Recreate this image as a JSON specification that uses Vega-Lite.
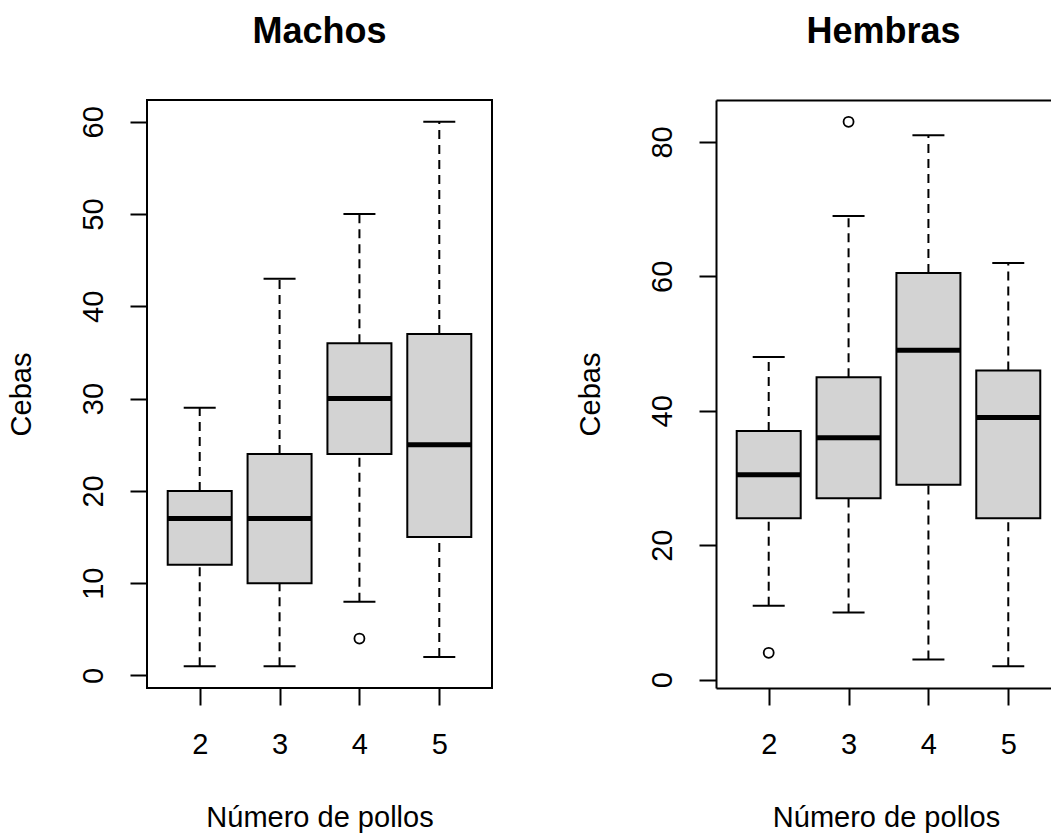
{
  "$schema": "https://vega.github.io/schema/vega-lite/v6.json",
  "background": "white",
  "padding": {"left": 6, "top": 13, "right": 0, "bottom": 0},
  "autosize": {"type": "pad"},
  "bounds": "flush",
  "spacing": 224,
  "datasets": {
    "resumen": [
      {"sexo": "Machos", "pollos": 2, "min": 1, "q1": 12, "mediana": 17, "q3": 20, "max": 29},
      {"sexo": "Machos", "pollos": 3, "min": 1, "q1": 10, "mediana": 17, "q3": 24, "max": 43},
      {"sexo": "Machos", "pollos": 4, "min": 8, "q1": 24, "mediana": 30, "q3": 36, "max": 50},
      {"sexo": "Machos", "pollos": 5, "min": 2, "q1": 15, "mediana": 25, "q3": 37, "max": 60},
      {"sexo": "Hembras", "pollos": 2, "min": 11, "q1": 24, "mediana": 30.5, "q3": 37, "max": 48},
      {"sexo": "Hembras", "pollos": 3, "min": 10, "q1": 27, "mediana": 36, "q3": 45, "max": 69},
      {"sexo": "Hembras", "pollos": 4, "min": 3, "q1": 29, "mediana": 49, "q3": 60.5, "max": 81},
      {"sexo": "Hembras", "pollos": 5, "min": 2, "q1": 24, "mediana": 39, "q3": 46, "max": 62}
    ],
    "atipicos": [
      {"sexo": "Machos", "pollos": 4, "cebas": 4},
      {"sexo": "Hembras", "pollos": 2, "cebas": 4},
      {"sexo": "Hembras", "pollos": 3, "cebas": 83}
    ]
  },
  "hconcat": [
    {
      "width": 345,
      "height": 588,
      "title": {"text": "Machos", "baseline": "alphabetic", "offset": 21, "frame": "group"},
      "data": {"name": "resumen"},
      "transform": [{"filter": "datum.sexo === 'Machos'"}],
      "layer": [
        {
          "mark": {"type": "rule", "color": "black", "strokeWidth": 2, "strokeDash": [9, 6]},
          "encoding": {
            "x": {"field": "pollos", "type": "quantitative",
                  "scale": {"domain": [1.34, 5.66], "nice": false, "zero": false, "padding": 0},
                  "axis": {"values": [2, 3, 4, 5], "format": "d", "domain": false, "labelAngle": 0,
                           "labelBaseline": "alphabetic", "labelPadding": 48,
                           "title": "Número de pollos", "titleBaseline": "alphabetic", "titleY": 138}},
            "y": {"field": "min", "type": "quantitative",
                  "scale": {"domain": [-1.36, 62.36], "nice": false, "zero": false, "padding": 0},
                  "axis": {"values": [0, 10, 20, 30, 40, 50, 60], "domain": false, "labelAngle": 270,
                           "labelAlign": "center", "labelBaseline": "alphabetic", "labelPadding": 28,
                           "title": "Cebas", "titleAngle": 270, "titleAlign": "center",
                           "titleBaseline": "alphabetic", "titleX": -117}},
            "y2": {"field": "q1"}
          }
        },
        {
          "mark": {"type": "rule", "color": "black", "strokeWidth": 2, "strokeDash": [9, 6]},
          "encoding": {
            "x": {"field": "pollos", "type": "quantitative", "scale": {"domain": [1.34, 5.66], "nice": false, "zero": false, "padding": 0}},
            "y": {"field": "q3", "type": "quantitative", "scale": {"domain": [-1.36, 62.36], "nice": false, "zero": false, "padding": 0}},
            "y2": {"field": "max"}
          }
        },
        {
          "mark": {"type": "bar", "size": 64, "fill": "#d3d3d3", "stroke": "black", "strokeWidth": 2},
          "encoding": {
            "x": {"field": "pollos", "type": "quantitative", "scale": {"domain": [1.34, 5.66], "nice": false, "zero": false, "padding": 0}},
            "y": {"field": "q1", "type": "quantitative", "scale": {"domain": [-1.36, 62.36], "nice": false, "zero": false, "padding": 0}},
            "y2": {"field": "q3"}
          }
        },
        {
          "mark": {"type": "tick", "orient": "horizontal", "size": 64, "thickness": 5, "color": "black", "opacity": 1},
          "encoding": {
            "x": {"field": "pollos", "type": "quantitative", "scale": {"domain": [1.34, 5.66], "nice": false, "zero": false, "padding": 0}},
            "y": {"field": "mediana", "type": "quantitative", "scale": {"domain": [-1.36, 62.36], "nice": false, "zero": false, "padding": 0}}
          }
        },
        {
          "mark": {"type": "tick", "orient": "horizontal", "size": 32, "thickness": 2, "color": "black", "opacity": 1},
          "encoding": {
            "x": {"field": "pollos", "type": "quantitative", "scale": {"domain": [1.34, 5.66], "nice": false, "zero": false, "padding": 0}},
            "y": {"field": "min", "type": "quantitative", "scale": {"domain": [-1.36, 62.36], "nice": false, "zero": false, "padding": 0}}
          }
        },
        {
          "mark": {"type": "tick", "orient": "horizontal", "size": 32, "thickness": 2, "color": "black", "opacity": 1},
          "encoding": {
            "x": {"field": "pollos", "type": "quantitative", "scale": {"domain": [1.34, 5.66], "nice": false, "zero": false, "padding": 0}},
            "y": {"field": "max", "type": "quantitative", "scale": {"domain": [-1.36, 62.36], "nice": false, "zero": false, "padding": 0}}
          }
        },
        {
          "data": {"name": "atipicos"},
          "transform": [{"filter": "datum.sexo === 'Machos'"}],
          "mark": {"type": "point", "shape": "circle", "filled": false, "size": 100, "stroke": "black", "strokeWidth": 1.8, "opacity": 1},
          "encoding": {
            "x": {"field": "pollos", "type": "quantitative", "scale": {"domain": [1.34, 5.66], "nice": false, "zero": false, "padding": 0}},
            "y": {"field": "cebas", "type": "quantitative", "scale": {"domain": [-1.36, 62.36], "nice": false, "zero": false, "padding": 0}}
          }
        }
      ]
    },
    {
      "width": 335,
      "height": 588,
      "view": {"stroke": null},
      "title": {"text": "Hembras", "baseline": "alphabetic", "offset": 21, "frame": "group"},
      "data": {"name": "resumen"},
      "transform": [{"filter": "datum.sexo === 'Hembras'"}],
      "resolve": {"axis": {"x": "independent"}},
      "layer": [
        {
          "mark": {"type": "rule", "color": "black", "strokeWidth": 2, "strokeDash": [9, 6]},
          "encoding": {
            "x": {"field": "pollos", "type": "quantitative",
                  "scale": {"domain": [1.34, 5.535], "nice": false, "zero": false, "padding": 0},
                  "axis": {"values": [2, 3, 4, 5], "format": "d", "domain": true, "labelAngle": 0,
                           "labelBaseline": "alphabetic", "labelPadding": 48,
                           "title": "Número de pollos", "titleBaseline": "alphabetic", "titleY": 138, "titleX": 170}},
            "y": {"field": "min", "type": "quantitative",
                  "scale": {"domain": [-1.24, 86.24], "nice": false, "zero": false, "padding": 0},
                  "axis": {"values": [0, 20, 40, 60, 80], "domain": true, "labelAngle": 270,
                           "labelAlign": "center", "labelBaseline": "alphabetic", "labelPadding": 28,
                           "title": "Cebas", "titleAngle": 270, "titleAlign": "center",
                           "titleBaseline": "alphabetic", "titleX": -117}},
            "y2": {"field": "q1"}
          }
        },
        {
          "mark": {"type": "rule", "color": "black", "strokeWidth": 2, "strokeDash": [9, 6]},
          "encoding": {
            "x": {"field": "pollos", "type": "quantitative", "scale": {"domain": [1.34, 5.535], "nice": false, "zero": false, "padding": 0},
                  "axis": {"orient": "top", "domain": true, "ticks": false, "labels": false, "title": null}},
            "y": {"field": "q3", "type": "quantitative", "scale": {"domain": [-1.24, 86.24], "nice": false, "zero": false, "padding": 0}},
            "y2": {"field": "max"}
          }
        },
        {
          "mark": {"type": "bar", "size": 64, "fill": "#d3d3d3", "stroke": "black", "strokeWidth": 2},
          "encoding": {
            "x": {"field": "pollos", "type": "quantitative", "scale": {"domain": [1.34, 5.535], "nice": false, "zero": false, "padding": 0}, "axis": null},
            "y": {"field": "q1", "type": "quantitative", "scale": {"domain": [-1.24, 86.24], "nice": false, "zero": false, "padding": 0}},
            "y2": {"field": "q3"}
          }
        },
        {
          "mark": {"type": "tick", "orient": "horizontal", "size": 64, "thickness": 5, "color": "black", "opacity": 1},
          "encoding": {
            "x": {"field": "pollos", "type": "quantitative", "scale": {"domain": [1.34, 5.535], "nice": false, "zero": false, "padding": 0}, "axis": null},
            "y": {"field": "mediana", "type": "quantitative", "scale": {"domain": [-1.24, 86.24], "nice": false, "zero": false, "padding": 0}}
          }
        },
        {
          "mark": {"type": "tick", "orient": "horizontal", "size": 32, "thickness": 2, "color": "black", "opacity": 1},
          "encoding": {
            "x": {"field": "pollos", "type": "quantitative", "scale": {"domain": [1.34, 5.535], "nice": false, "zero": false, "padding": 0}, "axis": null},
            "y": {"field": "min", "type": "quantitative", "scale": {"domain": [-1.24, 86.24], "nice": false, "zero": false, "padding": 0}}
          }
        },
        {
          "mark": {"type": "tick", "orient": "horizontal", "size": 32, "thickness": 2, "color": "black", "opacity": 1},
          "encoding": {
            "x": {"field": "pollos", "type": "quantitative", "scale": {"domain": [1.34, 5.535], "nice": false, "zero": false, "padding": 0}, "axis": null},
            "y": {"field": "max", "type": "quantitative", "scale": {"domain": [-1.24, 86.24], "nice": false, "zero": false, "padding": 0}}
          }
        },
        {
          "data": {"name": "atipicos"},
          "transform": [{"filter": "datum.sexo === 'Hembras'"}],
          "mark": {"type": "point", "shape": "circle", "filled": false, "size": 100, "stroke": "black", "strokeWidth": 1.8, "opacity": 1},
          "encoding": {
            "x": {"field": "pollos", "type": "quantitative", "scale": {"domain": [1.34, 5.535], "nice": false, "zero": false, "padding": 0}, "axis": null},
            "y": {"field": "cebas", "type": "quantitative", "scale": {"domain": [-1.24, 86.24], "nice": false, "zero": false, "padding": 0}}
          }
        }
      ]
    }
  ],
  "config": {
    "font": "Liberation Sans",
    "view": {"stroke": "black", "strokeWidth": 2},
    "axis": {
      "grid": false,
      "labelFont": "Liberation Sans", "labelFontSize": 29, "labelColor": "black",
      "tickColor": "black", "tickWidth": 2, "tickSize": 17,
      "domainColor": "black", "domainWidth": 2,
      "titleFont": "Liberation Sans", "titleFontSize": 29, "titleFontWeight": "normal", "titleColor": "black"
    },
    "title": {"font": "Liberation Sans", "fontSize": 36, "fontWeight": "bold", "color": "black", "anchor": "middle"}
  }
}
